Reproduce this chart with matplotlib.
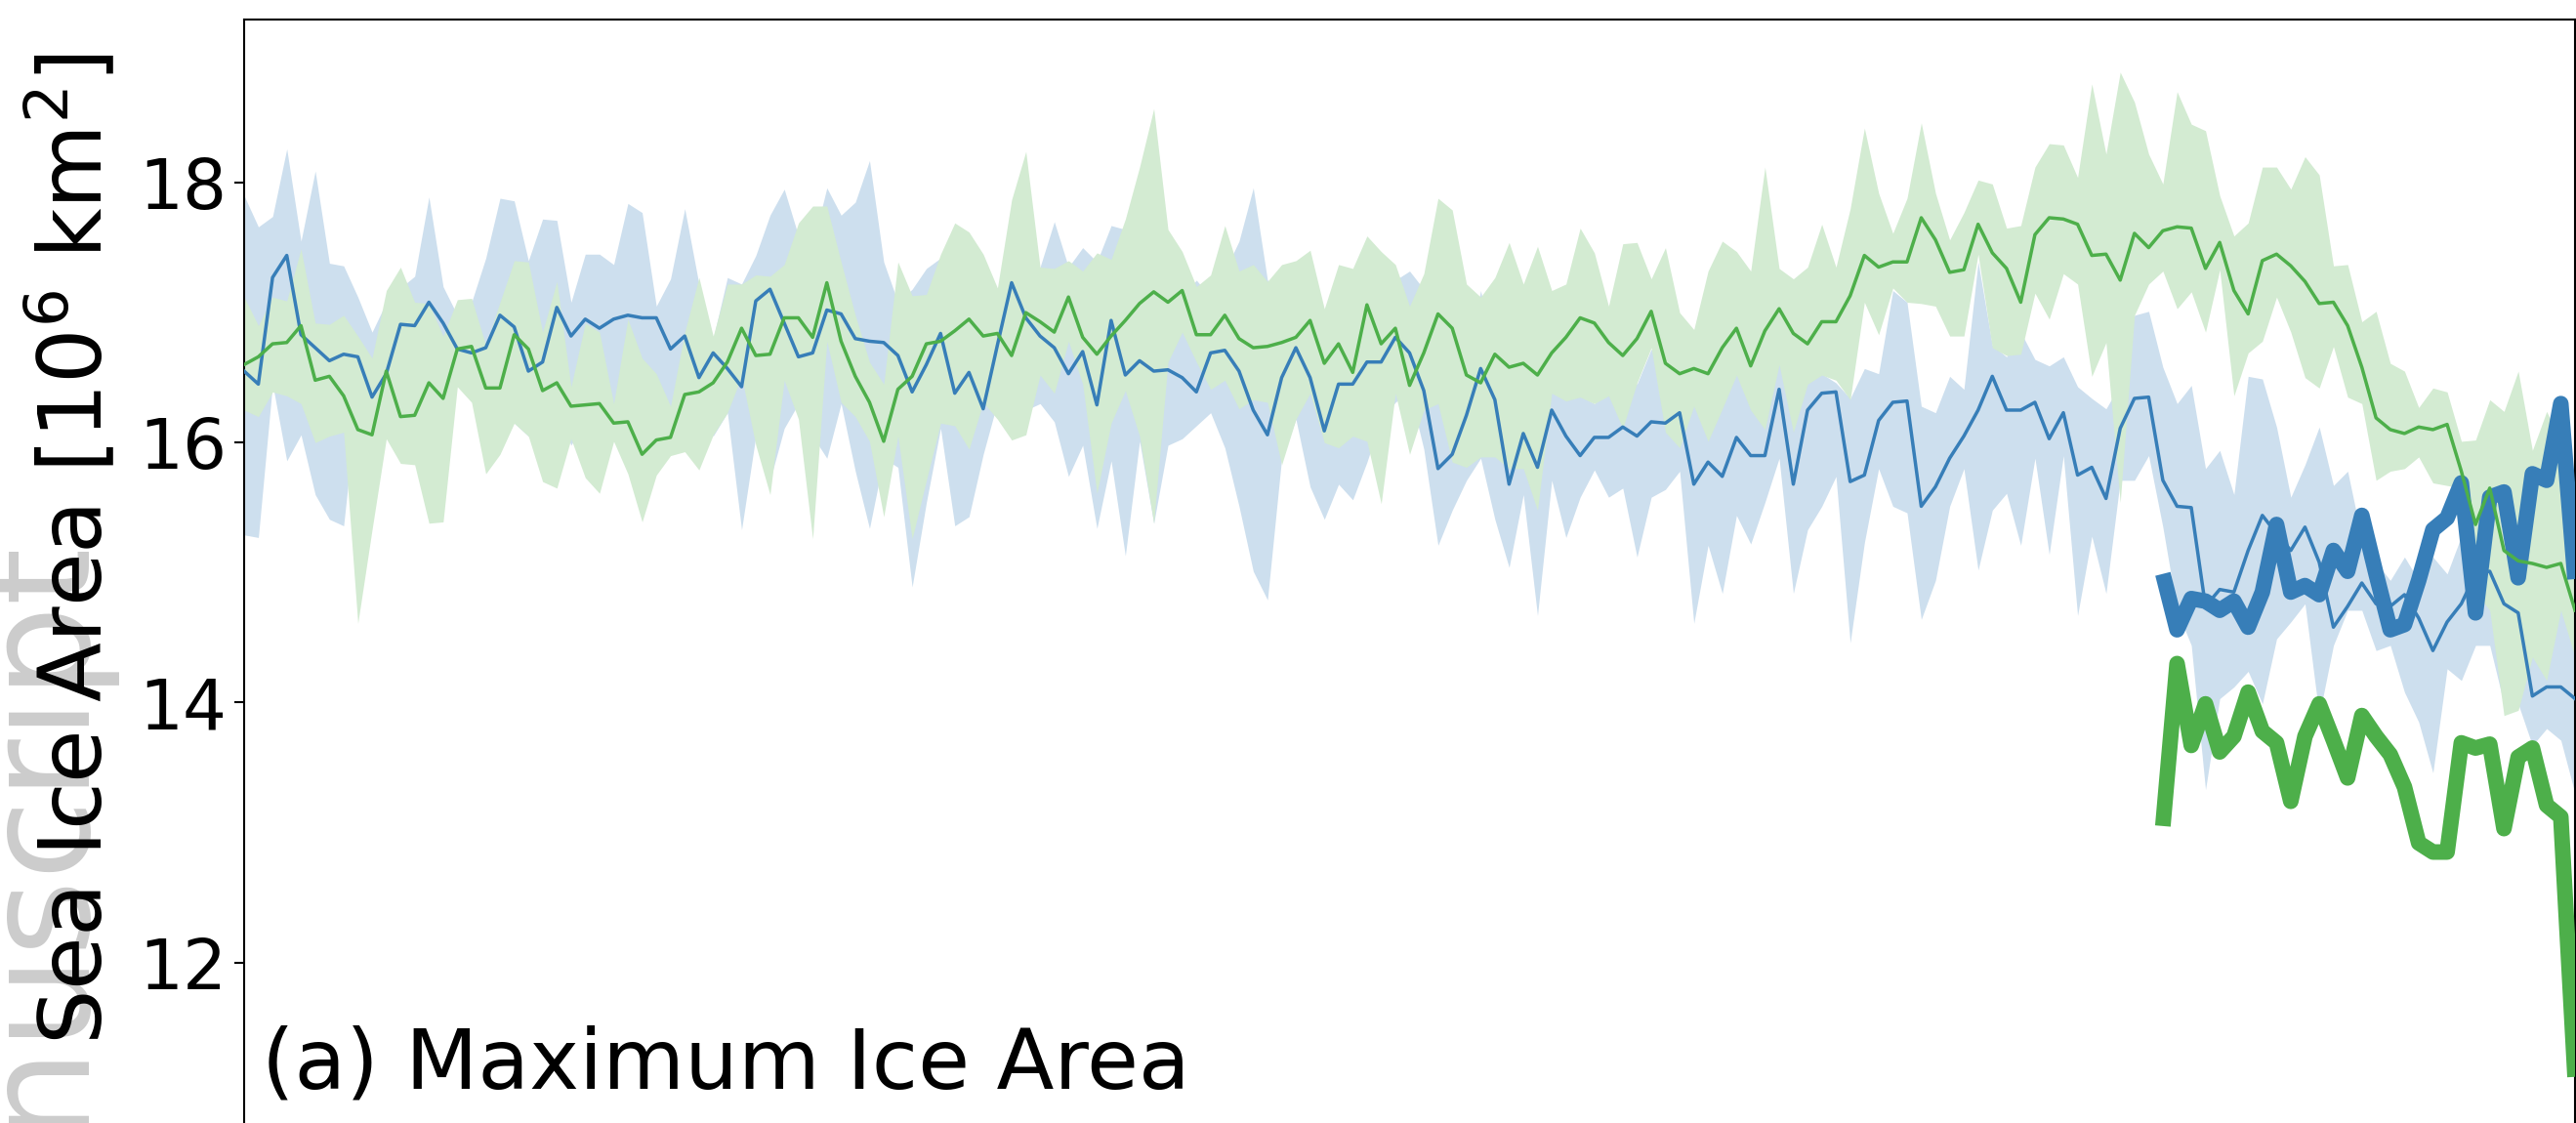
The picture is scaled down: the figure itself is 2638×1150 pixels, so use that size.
import numpy as np
import matplotlib
matplotlib.use("Agg")
import matplotlib.pyplot as plt

# ---- data -------------------------------------------------------------
years = np.arange(1850, 2015)

blue_mean = [
    16.55, 16.45, 17.27, 17.44, 16.83, 16.73, 16.63, 16.68, 16.66, 16.35, 16.53, 16.91, 16.90, 17.08, 16.92,
    16.72, 16.69, 16.73, 16.98, 16.89, 16.55, 16.62, 17.04, 16.82, 16.95, 16.88, 16.95, 16.98, 16.96,
    16.96, 16.72, 16.82, 16.50, 16.69, 16.57, 16.43, 17.09, 17.18, 16.92, 16.66, 16.69, 17.02, 16.99, 16.80,
    16.78, 16.77, 16.67, 16.39, 16.60, 16.84, 16.38, 16.54, 16.26, 16.75, 17.23, 16.96,
    16.82, 16.73, 16.53, 16.70, 16.29, 16.94, 16.52, 16.63, 16.55, 16.56, 16.50, 16.39, 16.69, 16.71, 16.55,
    16.25, 16.06, 16.50, 16.73, 16.50, 16.09, 16.45, 16.45, 16.62, 16.62, 16.81, 16.69, 16.40,
    15.80, 15.91, 16.21, 16.57, 16.33, 15.68, 16.07, 15.81, 16.25, 16.05, 15.90, 16.04, 16.04, 16.12, 16.05,
    16.16, 16.15, 16.23, 15.68, 15.85, 15.74, 16.04, 15.90, 15.90, 16.41, 15.68, 16.25, 16.38,
    16.39, 15.70, 15.75, 16.17, 16.31, 16.32, 15.51, 15.66, 15.88, 16.05, 16.25, 16.51, 16.25, 16.25, 16.31,
    16.03, 16.23, 15.75, 15.81, 15.57, 16.11, 16.34, 16.35, 15.71, 15.51, 15.50,
    14.74, 14.87, 14.85, 15.17, 15.44, 15.30, 15.17, 15.35, 15.08, 14.58, 14.74, 14.92, 14.76, 14.74, 14.83,
    14.65, 14.40, 14.62, 14.76, 14.99, 15.01, 14.76, 14.69, 14.05, 14.12, 14.12, 14.03,
]
blue_upper = [
    17.90, 17.66, 17.74, 18.26, 17.55, 18.09, 17.38, 17.36, 17.12, 16.85, 17.08, 17.19, 17.28, 17.89, 17.20,
    16.98, 17.08, 17.42, 17.88, 17.86, 17.40, 17.72, 17.71, 17.08, 17.45, 17.45, 17.37, 17.84, 17.77,
    17.05, 17.26, 17.80, 17.22, 16.80, 17.27, 17.22, 17.44, 17.75, 17.95, 17.59, 17.52, 17.96, 17.75, 17.85,
    18.17, 17.39, 17.08, 17.18, 17.34, 17.42, 17.32, 17.22, 17.05, 16.98, 17.39, 17.22,
    17.35, 17.70, 17.35, 17.50, 17.39, 17.67, 17.64, 17.39, 17.32, 17.25, 17.12, 17.25, 17.12, 17.32, 17.55,
    17.96, 17.25, 17.19, 17.05, 17.05, 16.72, 16.85, 17.05, 16.98, 17.05, 17.25, 17.32, 17.18,
    16.55, 16.38, 16.62, 17.17, 16.65, 16.38, 16.45, 16.38, 16.72, 16.38, 16.36, 16.30, 16.38, 16.55, 16.45,
    16.72, 16.45, 16.52, 16.87, 16.38, 16.45, 16.55, 16.38, 16.45, 16.62, 16.31, 16.55, 16.53,
    16.46, 16.34, 16.57, 16.53, 17.17, 17.08, 16.28, 16.23, 16.51, 16.41, 17.39, 16.75, 16.66, 16.85, 16.64,
    16.59, 16.66, 16.43, 16.34, 16.26, 16.45, 16.98, 17.01, 16.58, 16.30, 16.44,
    15.80, 15.94, 15.60, 16.51, 16.49, 16.12, 15.58, 15.83, 16.12, 15.67, 15.78, 15.26, 15.08, 14.94, 15.12,
    14.94, 15.12, 14.99, 15.28, 15.40, 15.71, 15.49, 15.58, 14.62, 14.53, 14.80, 14.94,
]
blue_lower = [
    15.29, 15.27, 16.45, 15.86, 16.06, 15.60, 15.41, 15.36, 16.38, 16.05, 16.05, 16.25, 16.18, 16.25, 16.38,
    16.55, 16.38, 16.21, 16.31, 16.15, 16.05, 15.91, 16.25, 15.98, 16.18, 16.05, 16.18, 16.31, 16.28,
    16.05, 15.95, 16.18, 16.21, 16.05, 16.23, 15.33, 16.05, 15.71, 16.11, 16.30, 16.05, 15.88, 16.30, 15.78,
    15.34, 15.88, 15.81, 14.89, 15.54, 16.11, 15.36, 15.43, 15.91, 16.31, 16.15, 16.25,
    16.30, 16.16, 15.74, 15.98, 15.34, 15.86, 15.13, 16.01, 15.38, 15.98, 16.03, 16.13, 16.23, 15.96, 15.51,
    15.01, 14.79, 15.88, 16.18, 15.66, 15.41, 15.68, 15.56, 15.85, 16.18, 16.31, 16.40, 15.95,
    15.21, 15.48, 15.71, 15.88, 15.41, 15.04, 15.60, 14.67, 15.71, 15.27, 15.58, 15.79, 15.58, 15.65, 15.12,
    15.58, 15.64, 15.78, 14.61, 15.21, 14.84, 15.44, 15.22, 15.54, 15.88, 14.84, 15.33, 15.51,
    15.74, 14.46, 15.23, 15.80, 15.51, 15.46, 14.64, 14.94, 15.51, 15.80, 15.02, 15.48, 15.61, 15.21, 15.88,
    15.14, 15.90, 14.67, 15.28, 14.84, 15.71, 15.71, 15.90, 15.35, 14.71, 14.44,
    13.33, 14.03, 14.12, 14.24, 13.99, 14.49, 14.62, 14.76, 13.90, 14.44, 14.71, 14.71, 14.40, 14.44, 14.08,
    13.85, 13.46, 14.26, 14.17, 14.44, 14.44, 13.99, 13.99, 13.67, 13.80, 13.71, 13.30,
]

green_mean = [
    16.60, 16.66, 16.76, 16.77, 16.90, 16.48, 16.51, 16.36, 16.10, 16.06, 16.55, 16.20, 16.21, 16.46, 16.34,
    16.72, 16.74, 16.42, 16.42, 16.83, 16.72, 16.40, 16.46, 16.28, 16.29, 16.30, 16.15, 16.16, 15.91,
    16.02, 16.04, 16.37, 16.39, 16.46, 16.62, 16.88, 16.67, 16.68, 16.96, 16.96, 16.81, 17.23, 16.78, 16.51,
    16.31, 16.01, 16.41, 16.51, 16.76, 16.78, 16.86, 16.95, 16.82, 16.84, 16.67, 17.00,
    16.93, 16.85, 17.12, 16.81, 16.68, 16.82, 16.94, 17.07, 17.16, 17.08, 17.17, 16.83, 16.83, 16.98, 16.80,
    16.73, 16.74, 16.77, 16.81, 16.94, 16.61, 16.76, 16.54, 17.06, 16.76, 16.88, 16.44, 16.69,
    16.99, 16.88, 16.52, 16.46, 16.68, 16.58, 16.61, 16.52, 16.69, 16.81, 16.96, 16.92, 16.77, 16.67, 16.80,
    17.01, 16.61, 16.53, 16.57, 16.53, 16.73, 16.88, 16.59, 16.86, 17.03, 16.84, 16.76, 16.93,
    16.93, 17.13, 17.44, 17.35, 17.39, 17.39, 17.73, 17.56, 17.31, 17.33, 17.68, 17.46, 17.34, 17.08, 17.60,
    17.73, 17.72, 17.68, 17.44, 17.45, 17.25, 17.61, 17.50, 17.63, 17.66, 17.65,
    17.34, 17.54, 17.17, 16.99, 17.40, 17.45, 17.36, 17.24, 17.07, 17.08, 16.90, 16.58, 16.19, 16.10, 16.07,
    16.12, 16.10, 16.14, 15.78, 15.37, 15.65, 15.17, 15.09, 15.07, 15.04, 15.07, 14.71,
]
green_upper = [
    17.12, 16.90, 17.12, 17.09, 17.49, 16.92, 16.91, 16.98, 16.82, 16.65, 17.17, 17.35, 17.08, 17.07, 16.82,
    17.10, 17.11, 16.75, 17.08, 17.40, 17.39, 16.85, 17.24, 16.43, 16.92, 16.85, 16.30, 16.95, 16.65,
    16.53, 16.28, 16.85, 17.27, 16.82, 17.22, 17.22, 17.29, 17.28, 17.37, 17.69, 17.82, 17.82, 17.39, 16.98,
    16.62, 16.45, 17.39, 17.13, 17.14, 17.45, 17.69, 17.62, 17.45, 17.19, 17.87, 18.24,
    17.35, 17.34, 17.40, 17.32, 17.46, 17.41, 17.72, 18.12, 18.57, 17.64, 17.47, 17.20, 17.29, 17.67, 17.32,
    17.37, 17.24, 17.37, 17.40, 17.48, 17.03, 17.37, 17.34, 17.59, 17.47, 17.37, 17.05, 17.30,
    17.88, 17.79, 17.22, 17.12, 17.27, 17.54, 17.22, 17.51, 17.17, 17.22, 17.65, 17.46, 17.05, 17.53, 17.54,
    17.26, 17.50, 17.00, 16.87, 17.32, 17.55, 17.47, 17.32, 18.12, 17.34, 17.26, 17.35, 17.68,
    17.35, 17.80, 18.42, 17.92, 17.61, 17.88, 18.46, 17.92, 17.56, 17.77, 18.02, 17.99, 17.65, 17.67, 18.12,
    18.30, 18.29, 18.04, 18.76, 18.22, 18.85, 18.62, 18.22, 17.99, 18.70, 18.45,
    18.40, 17.90, 17.59, 17.69, 18.12, 18.12, 17.95, 18.20, 18.06, 17.36, 17.37, 16.93, 17.01, 16.61, 16.55,
    16.27, 16.42, 16.39, 16.01, 16.02, 16.33, 16.24, 16.55, 15.94, 16.24, 16.01, 15.25,
]
green_lower = [
    16.25, 16.20, 16.39, 16.36, 16.30, 16.00, 16.05, 16.08, 14.61, 15.33, 16.03, 15.84, 15.83, 15.38, 15.39,
    16.43, 16.31, 15.76, 15.91, 16.15, 16.05, 15.70, 15.65, 16.03, 15.73, 15.61, 16.01, 15.76, 15.39,
    15.75, 15.90, 15.93, 15.79, 16.06, 16.23, 16.51, 15.98, 15.60, 16.48, 16.18, 15.26, 16.78, 16.31, 16.20,
    16.01, 15.43, 16.05, 15.26, 15.71, 16.15, 16.13, 15.95, 16.31, 16.18, 16.02, 16.06,
    16.52, 16.38, 16.78, 16.45, 15.61, 16.15, 16.40, 16.05, 15.38, 16.62, 16.85, 16.62, 16.41, 16.48, 16.26,
    16.33, 16.31, 15.83, 16.18, 16.38, 16.00, 15.96, 16.05, 16.01, 15.53, 16.38, 15.91, 16.25,
    16.30, 15.85, 15.81, 15.89, 15.89, 15.80, 15.80, 15.48, 16.38, 16.32, 16.35, 16.30, 16.36, 16.11, 16.46,
    16.73, 16.08, 15.96, 16.28, 16.01, 16.26, 16.52, 16.25, 16.10, 16.60, 16.08, 16.45, 16.52,
    16.48, 16.33, 17.08, 16.83, 17.19, 17.08, 17.07, 17.05, 16.82, 16.82, 17.45, 16.73, 16.67, 16.68, 17.15,
    16.95, 17.30, 17.22, 16.51, 16.77, 15.54, 16.98, 17.22, 17.32, 17.03, 17.16,
    16.85, 17.33, 16.36, 16.69, 16.78, 17.12, 16.85, 16.50, 16.42, 16.74, 16.35, 16.30, 15.71, 15.78, 15.80,
    15.89, 15.69, 15.67, 15.65, 14.85, 14.71, 13.90, 13.94, 14.35, 14.17, 14.71, 14.35,
]

obs_years = np.arange(1985, 2015)
obs_blue = [
    14.99, 14.56, 14.80, 14.78, 14.71, 14.78, 14.58, 14.85, 15.37, 14.85, 14.90, 14.83, 15.17, 15.01, 15.44,
    14.99, 14.56, 14.60, 14.94, 15.33, 15.42, 15.69, 14.69, 15.58, 15.62, 14.96, 15.76, 15.71, 16.30, 14.95,
]
obs_green = [
    13.05, 14.30, 13.67, 13.99, 13.62, 13.74, 14.08, 13.78, 13.69, 13.24, 13.74, 13.99, 13.71, 13.42, 13.90,
    13.74, 13.60, 13.35, 12.92, 12.85, 12.85, 13.69, 13.65, 13.68, 13.03, 13.58, 13.65, 13.21, 13.12, 11.12,
]

y_ticks = [12, 14, 16, 18]

# ---- styling ----------------------------------------------------------
BLUE = "#377eb8"
GREEN = "#4daf4a"
BLUE_FILL = "#cddfee"
GREEN_FILL = "#d3ebd2"

W, H = 2638, 1150
fig = plt.figure(figsize=(W / 100, H / 100), dpi=100)

# axes extends below the bottom of the canvas (lower part is cut away)
ymin, ymax = 10.0, 19.255
px_per_unit = 133.1
ax_left = 250 / W
ax_width = (2637 - 250) / W
ax_top = 1 - 20 / H
ax_height = (ymax - ymin) * px_per_unit / H
ax = fig.add_axes([ax_left, ax_top - ax_height, ax_width, ax_height])

ax.fill_between(years, blue_lower, blue_upper, color=BLUE_FILL, lw=0, zorder=1)
ax.fill_between(years, green_lower, green_upper, color=GREEN_FILL, lw=0, zorder=2)

ax.plot(obs_years, obs_blue, color=BLUE, lw=11.5, solid_capstyle="butt",
        solid_joinstyle="round", zorder=3)
ax.plot(obs_years, obs_green, color=GREEN, lw=11.5, solid_capstyle="butt",
        solid_joinstyle="round", zorder=3)
ax.plot(years, blue_mean, color=BLUE, lw=2.5, zorder=4)
ax.plot(years, green_mean, color=GREEN, lw=2.5, zorder=5)

ax.set_xlim(years[0], years[-1])
ax.set_ylim(ymin, ymax)
ax.set_yticks(y_ticks)
ax.set_yticklabels([str(t) for t in y_ticks])
ax.set_xticks([])
ax.tick_params(axis="y", labelsize=51, length=7, width=1.5, pad=6)
for s in ax.spines.values():
    s.set_linewidth(1.5)

ax.text(0.0075, 0.1115, "(a) Maximum Ice Area", transform=ax.transAxes,
        fontsize=62, ha="left", va="baseline", zorder=6)

# faint vertical banner text on the left margin
fig.text(92 / W, 1 - 560 / H, "Author Manuscript", rotation=90,
         rotation_mode="anchor", ha="right", va="baseline",
         fontsize=108, color="#cccccc", zorder=0)

fig.text(76 / W, 1 - 562 / H, r"Sea Ice Area [10$^6$ km$^2$]", rotation=90,
         ha="center", va="center", fontsize=64, zorder=2)

fig.savefig("out.png", dpi=100)
